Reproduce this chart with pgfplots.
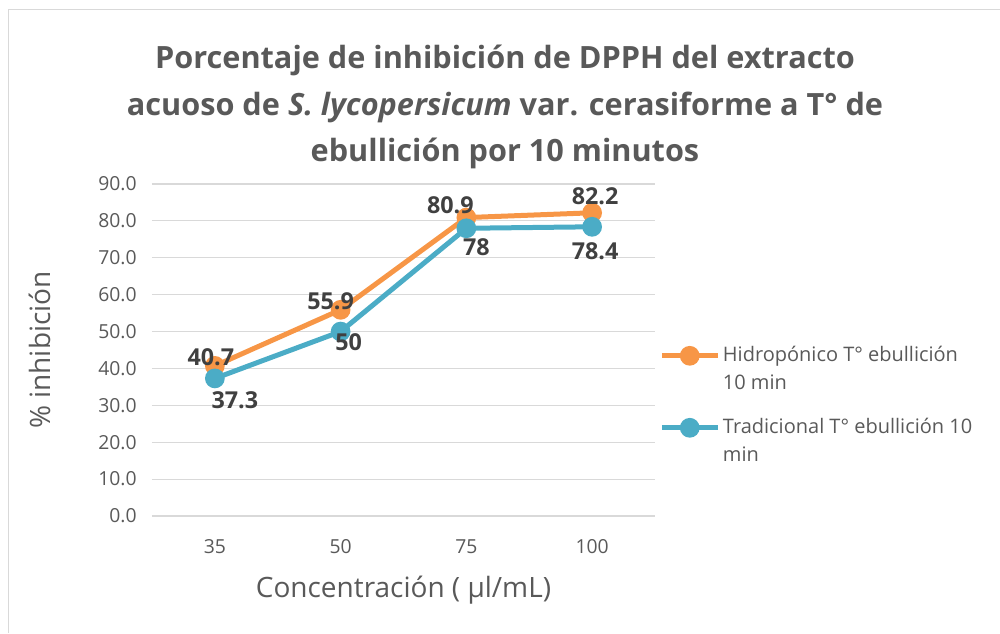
\documentclass[border=0pt]{standalone}
\usepackage{pgfplots}
\pgfplotsset{compat=1.18}
\usepackage{pgfplotstable}
\usepackage{fontspec}
\setmainfont{Open Sans}
\definecolor{cOr}{HTML}{F79646}
\definecolor{cBl}{HTML}{4BACC6}
\definecolor{cTx}{HTML}{595959}
\definecolor{cLb}{HTML}{404040}
\definecolor{cGr}{HTML}{D9D9D9}
\pgfplotstableread{
x y lab dx dy
0 40.7 40.7 -4 9
1 55.9 55.9 -10 9
2 80.9 80.9 -16 12
3 82.2 82.2 3 17
}\hidro
\pgfplotstableread{
x y lab dx dy
0 37.3 37.3 20 -22
1 50 50 8 -11
2 78 78 10 -19
3 78.4 78.4 3 -24
}\trad
\begin{document}
\begin{tikzpicture}
\path[use as bounding box] (0,0) rectangle (750pt,474.75pt);
\draw[cGr, line width=0.75pt] (6pt,0) -- (6pt,467.25pt) -- (750pt,467.25pt);
\node[align=center, text=cTx, font=\fontsize{23}{35}\selectfont\bfseries] at (378.75pt,394.5pt)
 {Porcentaje de inhibición de DPPH del extracto\\acuoso de \textit{S. lycopersicum} var. cerasiforme a T° de\\ebullición por 10 minutos};
\begin{axis}[
  at={(114pt,87.75pt)}, anchor=south west,
  scale only axis, width=377.25pt, height=249pt,
  xmin=-0.5, xmax=3.5, ymin=0, ymax=90,
  xtick={0,1,2,3}, xticklabels={35,50,75,100},
  ytick={0,10,...,90},
  axis line style={draw=none},
  major tick length=0pt,
  ymajorgrids, grid style={cGr, line width=0.9pt},
  tick label style={text=cTx, font=\fontsize{14.5}{18}\selectfont},
  /pgf/number format/assume math mode=true,
  yticklabel style={/pgf/number format/fixed, /pgf/number format/fixed zerofill, /pgf/number format/precision=1, xshift=-8pt},
  xticklabel style={yshift=-14pt},
  xlabel={Concentración ( µl/mL)},
  ylabel={\% inhibición},
  every axis x label/.style={at={(axis description cs:0.5,0)}, anchor=center, yshift=-55.5pt, text=cTx, font=\fontsize{21}{24}\selectfont},
  every axis y label/.style={at={(axis description cs:0,0.5)}, anchor=center, rotate=90, yshift=84pt, text=cTx, font=\fontsize{21}{24}\selectfont},
  legend style={at={(axis description cs:1,0.334)}, anchor=west, draw=none, fill=none,
    font=\fontsize{15}{21}\selectfont, text=cTx, nodes={align=left}, row sep=16pt, xshift=0pt},
  legend cell align=left,
  legend image code/.code={
    \draw[#1, mark=none] (0pt,10pt) -- (42pt,10pt);
    \draw[#1, only marks] plot coordinates {(21pt,10pt)};
  },
  nodes near coords,
  point meta=explicit symbolic,
  every node near coord/.append style={font=\fontsize{17.5}{18}\selectfont\bfseries, text=cLb, anchor=center},
]
\addplot[cOr, line width=3.75pt, mark=*, mark size=5.5pt, mark options={fill=cOr, draw=cOr},
  visualization depends on={\thisrow{dx}\as\dx},
  visualization depends on={\thisrow{dy}\as\dy},
  nodes near coords style={xshift={0.75*\dx}, yshift={0.75*\dy}}]
  table[x=x, y=y, meta=lab] {\hidro};
\addlegendentry{Hidropónico T° ebullición\\10 min}
\addplot[cBl, line width=3.75pt, mark=*, mark size=5.5pt, mark options={fill=cBl, draw=cBl},
  visualization depends on={\thisrow{dx}\as\dx},
  visualization depends on={\thisrow{dy}\as\dy},
  nodes near coords style={xshift={0.75*\dx}, yshift={0.75*\dy}}]
  table[x=x, y=y, meta=lab] {\trad};
\addlegendentry{Tradicional T° ebullición 10\\min}
\end{axis}
\end{tikzpicture}
\end{document}
